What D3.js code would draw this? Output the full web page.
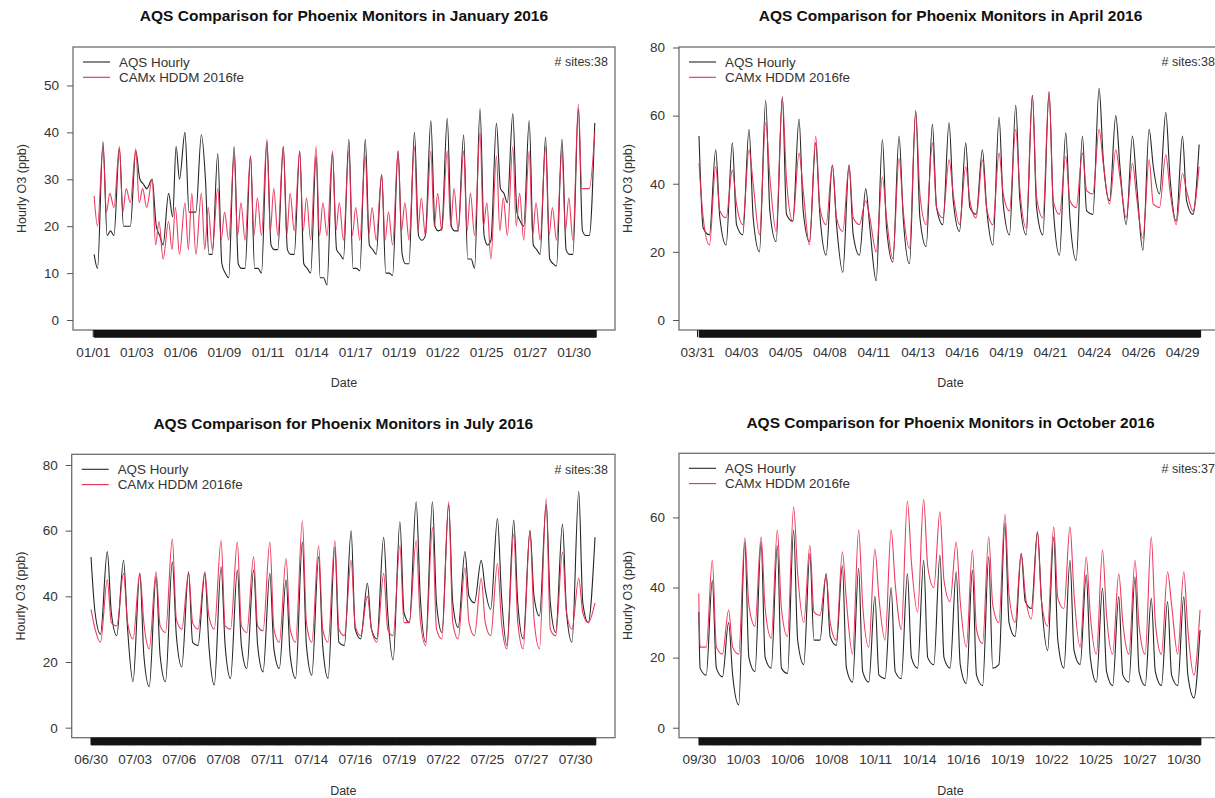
<!DOCTYPE html>
<html><head><meta charset="utf-8">
<script src="https://cdn.jsdelivr.net/npm/d3@7"></script>
<style>
html,body{margin:0;padding:0;background:#fff;}
svg{display:block;font-family:"Liberation Sans",Arial,Helvetica,sans-serif;}
</style></head>
<body>
<svg id="chart" width="1215" height="798"></svg>
<script>
// ---------------- DATA ----------------
// Each array is indexed by day number of the plotted window; values in ppb.
// January 2016 (day 0 = 01/01)
const janTickLabels = ["01/01","01/03","01/06","01/09","01/11","01/14","01/17","01/19","01/22","01/25","01/27","01/30"];
const janAqsLow   = [11,18,20,28,16,30,23,14,9,11,10,15,14,10,7.5,13,10.5,14,9.5,12,18,19.5,19,11,17,25,20,14,11.5,14,18];
const janAqsPeak  = [38,36.5,36,30,27,40,39.5,35.5,37,35,38,37,36,35,35.5,38.5,38.5,31,36,40,42.5,43,39.5,45,42,44,42.5,39,38.5,45,42];
const janAqsEve   = [18,20,30,20,22,23,30,12,12,11,16,15,12,9,15,11,16,10,14,18,20,20,13,18,28,23,16,13,15,19,null];
const janAqsNight = [19,20,29,18,37,23,14,10,11,11,15,14,11,9,14,11,15,10,12,17,19,19,13,16,27,21,15,12,14,18,null];
const janCamxLow  = [20,24,25,24,13,14,14,15,17,17,18,18,19,17,18,17,17,17,16,17,18,19,19,18,13,18,17,17,17,17,28];
const janCamxPeak = [37,37,36.5,30,21,25,27,28,35,35,38.5,37,36,37,36,36,35,31,36,37,36,36,36,40,35,37,36,37,36,46,40];
const janCamxEve  = [23,23,25,16,15,15,15,17,18,18,19,18,19,18,19,18,18,17,19,19,20,20,19,20,19,20,18,18,19,28,null];
const janCamxNight= [27,28,28,21,24,27,24,23,25,26,28,27,26,25,25,24,24,23,25,26,27,28,27,25,26,27,25,24,26,28,null];
const janStart = [2, 14, 26.5];      // [hour, AQS, CAMx]
const janEnd = 736;

// April 2016 (day 0 = 03/31)
const aprTickLabels = ["03/31","04/03","04/05","04/08","04/11","04/13","04/16","04/19","04/21","04/24","04/26","04/29"];
const aprAqsLow   = [null,25,22,25,20,23,29,23,19,14,19,11.5,17,16.5,21.5,28,26,31,22,25,25,25,19,17.5,31,35,28,20.5,37,29,31];
const aprAqsPeak  = [54,50,52,56,64.5,65.5,59,52,45.5,45.5,38.5,53,54,61.5,57.5,58,52,50,59.5,63,66,67,55,54,68,60,54,56,61,54,51.5];
const aprAqsEve   = [27,30,28,30,32,31,32,31,28,25,27,27,30,30,33,35,33,33,34,35,33,33,30,32,47,45,40,45,42,35,null];
const aprCamxLow  = [null,22,30,28,25,26,29,22,28,26,28,20,18,21,28,30,28,30,28,32,27,30,31,33,37,34,30,24,33,28,32];
const aprCamxPeak = [46,45,44,50,58,65,49,54,45.5,45.5,35,42,47.5,61,52,47,45,47,49,56,66,67,48,49,56,50,46,47,48.5,43,45];
const aprCamxEve  = [30,32,34,40,42,41,38,33,30,30,30,30,32,37,33,37,35,33,37,38,36,35,35,38,46,42,36,34,38,38,null];
const aprStart = [15, 54, 46];
const aprEnd = 736;

// July 2016 (day 0 = 06/30)
const julTickLabels = ["06/30","07/03","07/06","07/08","07/11","07/14","07/16","07/19","07/22","07/25","07/27","07/30"];
const julAqsLow   = [null,28.5,28,14,12.5,14,18.5,25,13,15,18,17,18,15,16,15,25,27,27,20.6,32,26,29,30.5,38,36,25,27,34,29,26,32];
const julAqsPeak  = [52,53.6,51,47,46,50.5,47.5,47,49,48,48,47,45,56.5,52,55,60,44,58,62.7,68.8,68.8,68,53.6,51,63.7,63.2,60,68,62,71.9,58];
const julAqsEve   = [35,35,30,22,22,28,26,25,25,25,25,24,22,25,25,26,30,30,35,35,40,38,38,40,42,40,38,40,38,35,38,null];
const julCamxLow  = [null,26,31,27,24,29,30,30,30,30,29,29.5,26,26,26,26,28,28,26,28,32,25,27,27,28,28,24,24,24,28,30,32];
const julCamxPeak = [36,45,47,47,47.5,57.5,47,47.5,57,56.5,52,56.5,51.5,63,55.5,57,51,40,47,55.5,57,61,68.8,48.7,45.5,50,59,60,69.8,53.5,45.5,38];
const julCamxEve  = [30,32,32,32,31,33,32,34,31,31,31,30,30,32,30,30,31,30,30,32,33,30,32,32,32,32,32,33,30,35,35,null];
const julStart = [15, 52, 36];
const julEnd = 759;

// October 2016 (day 0 = 09/30)
const octTickLabels = ["09/30","10/03","10/06","10/08","10/11","10/14","10/16","10/19","10/22","10/25","10/27","10/30"];
const octAqsLow   = [null,15,14.5,6.5,16,17,15.5,18,25,23.5,13,13,14,14,17,18,17,12.6,12,18,26,34,22,17,18,13,12,13,12,12,12,8.5];
const octAqsPeak  = [null,42,30,53,53,52,56.4,49.7,44,46.2,45.5,37.5,40,44,47.8,49.3,44.5,45,48.8,58.3,49.7,55.9,54.5,47.8,43.6,39.8,37.4,43,36.9,36,37.4,27.9];
const octAqsEve   = [17,17,15,20,20,17,25,25,26,17,16,15,16,20,20,20,18,15,17,30,36,36,25,22,20,16,15,16,16,15,15,null];
const octCamxLow  = [null,23,21,21,29,25.5,26,30,32,25,21,23,25,28,33,40,36,23,24,30,30,31,29,34,23,21,21,21,21,21,21,15];
const octCamxPeak = [null,47.8,33.6,54.2,54.5,56.5,63,52,43.5,50.2,56.5,51,56.5,64.7,65.2,61.6,53,50.7,54.5,60.9,49.7,55.9,57.3,57.3,48.8,50.7,44,47.8,54.5,44.5,44.5,33.6];
const octCamxEve  = [23,23,23,35,34,34,44,33,30,36,35,37,41,47,46,42,36,28,35,38,38,36,37,38,32,32,30,29,30,35,28,null];
const octStart = [19, 33, 38.3];
const octEnd = 759;

const janYTicks = [0,10,20,30,40,50];
const aprYTicks = [0,20,40,60,80];
const julYTicks = [0,20,40,60,80];
const octYTicks = [0,20,40,60];

// ---------------- BUILD SERIES ----------------
function build(spec, start, end, startVal) {
  const pts = [[start, startVal]];
  spec.forEach(([hod, arr]) => {
    arr.forEach((v, d) => {
      if (v == null) return;
      const h = 24 * d + hod;
      if (h > start && h <= end) pts.push([h, v]);
    });
  });
  pts.sort((a, b) => a[0] - b[0]);
  return pts;
}

const panels = [
  { title: "AQS Comparison for Phoenix Monitors in January 2016", sites: "# sites:38",
    box: [73, 47, 615, 330], xa: 92.76, xb: 0.683, yDom: [-2.13, 58.2], yTicks: janYTicks,
    labels: janTickLabels, tFirst: 0, tStep: 64, start: janStart[0], end: janEnd,
    aqs: build([[7, janAqsLow], [15, janAqsPeak], [21, janAqsEve], [26, janAqsNight]], janStart[0], janEnd, janStart[1]),
    camx: build([[7, janCamxLow], [15, janCamxPeak], [20, janCamxEve], [25, janCamxNight]], janStart[0], janEnd, janStart[2]) },
  { title: "AQS Comparison for Phoenix Monitors in April 2016", sites: "# sites:38",
    box: [679, 47, 1222, 330], xa: 688.6, xb: 0.6946, yDom: [-2.94, 80.15], yTicks: aprYTicks,
    labels: aprTickLabels, tFirst: 12.1, tStep: 63.5, start: aprStart[0], end: aprEnd,
    aqs: build([[6, aprAqsLow], [15, aprAqsPeak], [21, aprAqsEve]], aprStart[0], aprEnd, aprStart[1]),
    camx: build([[6, aprCamxLow], [15, aprCamxPeak], [21, aprCamxEve]], aprStart[0], aprEnd, aprStart[2]) },
  { title: "AQS Comparison for Phoenix Monitors in July 2016", sites: "# sites:38",
    box: [71.7, 454.3, 615, 737.7], xa: 80.86, xb: 0.6774, yDom: [-3.05, 83.25], yTicks: julYTicks,
    labels: julTickLabels, tFirst: 14.5, tStep: 65, start: julStart[0], end: julEnd,
    aqs: build([[5, julAqsLow], [15, julAqsPeak], [21, julAqsEve]], julStart[0], julEnd, julStart[1]),
    camx: build([[5, julCamxLow], [15, julCamxPeak], [21, julCamxEve]], julStart[0], julEnd, julStart[2]) },
  { title: "AQS Comparison for Phoenix Monitors in October 2016", sites: "# sites:37",
    box: [679, 453.3, 1222, 737.7], xa: 685.9, xb: 0.6774, yDom: [-2.85, 78.3], yTicks: octYTicks,
    labels: octTickLabels, tFirst: 19.3, tStep: 65, start: octStart[0], end: octEnd,
    aqs: build([[6, octAqsLow], [15, octAqsPeak], [21, octAqsEve]], octStart[0], octEnd, octStart[1]),
    camx: build([[6, octCamxLow], [15, octCamxPeak], [21, octCamxEve]], octStart[0], octEnd, octStart[2]) }
];

const BLACK = "#262626", RED = "#ea2a52";
const FONT = "Liberation Sans, Arial, sans-serif";
const svg = d3.select("#chart");

panels.forEach((p, i) => {
  const [L, T, R, B] = p.box;
  const x = d3.scaleLinear().domain([(L - p.xa) / p.xb, (R - p.xa) / p.xb]).range([L, R]);
  const y = d3.scaleLinear().domain(p.yDom).range([B, T]);
  const g = svg.append("g");

  const cid = "clip" + i;
  svg.append("clipPath").attr("id", cid).append("rect")
     .attr("x", L).attr("y", T).attr("width", R - L).attr("height", B - T);

  // series
  const line = d3.line().x(d => x(d[0])).y(d => y(d[1])).curve(d3.curveMonotoneX);
  const lg = g.append("g").attr("clip-path", `url(#${cid})`);
  lg.append("path").datum(p.aqs).attr("d", line).attr("fill", "none")
    .attr("stroke", BLACK).attr("stroke-width", 1.1).attr("stroke-linejoin", "round");
  lg.append("path").datum(p.camx).attr("d", line).attr("fill", "none")
    .attr("stroke", RED).attr("stroke-width", 1.1).attr("stroke-opacity", 0.92).attr("stroke-linejoin", "round");

  // box
  g.append("rect").attr("x", L).attr("y", T).attr("width", R - L).attr("height", B - T)
    .attr("fill", "none").attr("stroke", "#6f6f6f").attr("stroke-width", 1.3);

  // hourly rug ticks (dense black bar)
  const hours = d3.range(Math.ceil(p.start), Math.floor(p.end) + 1);
  const rug = g.append("g").attr("transform", `translate(0,${B})`)
    .call(d3.axisBottom(x).tickValues(hours).tickFormat("").tickSize(7.5).tickSizeOuter(0));
  rug.select(".domain").remove();
  rug.selectAll("line").attr("stroke", "#151515").attr("stroke-width", 1.6);

  // date labels
  const lh = p.labels.map((_, k) => p.tFirst + k * p.tStep);
  const xa = g.append("g").attr("transform", `translate(0,${B})`)
    .call(d3.axisBottom(x).tickValues(lh).tickFormat((d, k) => p.labels[k]).tickSize(7).tickPadding(10));
  xa.select(".domain").remove();
  xa.selectAll("line").attr("stroke", "#151515");
  xa.selectAll("text").attr("font-size", 13.5).attr("fill", "#333").attr("font-family", FONT);

  // y axis
  const ya = g.append("g").attr("transform", `translate(${L},0)`)
    .call(d3.axisLeft(y).tickValues(p.yTicks).tickSize(6).tickPadding(8).tickSizeOuter(0));
  ya.select(".domain").remove();
  ya.selectAll("line").attr("stroke", "#555");
  ya.selectAll("text").attr("font-size", 13.5).attr("fill", "#333").attr("font-family", FONT);

  // title
  const cx = (L + R) / 2;
  g.append("text").attr("x", cx).attr("y", T - 31).attr("dy", "0.35em").attr("text-anchor", "middle")
    .attr("font-size", 15.5).attr("font-weight", "bold").attr("fill", "#111").text(p.title);

  // axis titles
  g.append("text").attr("x", cx).attr("y", B + 53).attr("dy", "0.35em").attr("text-anchor", "middle")
    .attr("font-size", 12.5).attr("fill", "#333").text("Date");
  g.append("text").attr("transform", `translate(${L - 51},${(T + B) / 2}) rotate(-90)`)
    .attr("dy", "0.35em").attr("text-anchor", "middle").attr("font-size", 12.5).attr("fill", "#333")
    .text("Hourly O3 (ppb)");

  // legend
  const leg = [["AQS Hourly", BLACK], ["CAMx HDDM 2016fe", RED]];
  leg.forEach(([lab, col], k) => {
    const yy = T + 15 + k * 15.3;
    g.append("line").attr("x1", L + 10).attr("x2", L + 37).attr("y1", yy).attr("y2", yy)
      .attr("stroke", col).attr("stroke-width", 1.1);
    g.append("text").attr("x", L + 46).attr("y", yy).attr("dy", "0.35em")
      .attr("font-size", 13.4).attr("fill", "#333").text(lab);
  });

  // sites
  g.append("text").attr("x", R - 7).attr("y", T + 15).attr("dy", "0.35em").attr("text-anchor", "end")
    .attr("font-size", 12.5).attr("fill", "#333").text(p.sites);
});
</script>
</body></html>
